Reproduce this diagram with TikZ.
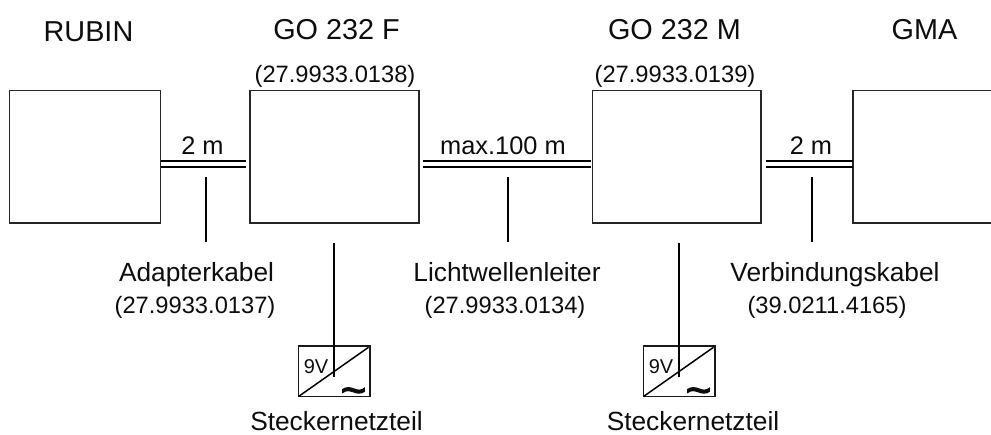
\documentclass[tikz,border=0pt]{standalone}
\usepackage{fontspec}
\usetikzlibrary{calc}
\setmainfont{Liberation Sans}
\newfontfamily\tildefont[FakeBold=2.5]{Liberation Sans}
\tikzset{
  x=1pt,y=-1pt,
  devbox/.style={draw=black!85,line width=1.3pt,inner sep=0pt,outer sep=0pt,anchor=north west},
  psubox/.style={draw=black!90,line width=1.4pt,inner sep=0pt,outer sep=0pt,minimum width=71.5pt,minimum height=50.5pt,anchor=north west},
  cable/.style={line width=2pt,black},
  lead/.style={line width=1.5pt,black},
  feed/.style={line width=2pt,black},
  diag/.style={line width=1.5pt,black},
  txt/.style={inner sep=0pt,outer sep=0pt,anchor=base,text=black!95},
  head/.style={txt,font=\fontsize{28.8}{30}\selectfont},
  lab/.style={txt,font=\fontsize{26.3}{28}\selectfont},
  num/.style={txt,font=\fontsize{23.7}{26}\selectfont},
  len/.style={txt,font=\fontsize{25.4}{28}\selectfont},
  volt/.style={txt,font=\fontsize{20}{22}\selectfont},
  tild/.style={txt,font=\tildefont\fontsize{44}{44}\selectfont},
}
\begin{document}
\begin{tikzpicture}
\useasboundingbox (0,0) rectangle (991,434);
\clip (0,0) rectangle (991,434);
\node[devbox,minimum width=151pt,minimum height=132.5pt] (rubin) at (9.5,90.5) {};
\node[devbox,minimum width=169pt,minimum height=132.5pt] (gof) at (250,90.5) {};
\node[devbox,minimum width=168.5pt,minimum height=132.5pt] (gom) at (592.5,90.5) {};
\node[devbox,minimum width=160pt,minimum height=132.5pt] (gma) at (853,90.5) {};
\node[psubox] (psua) at (298.5,346) {};
\node[psubox] (psub) at (643.5,346) {};

\node[head] (trubin) at (88.5,41) {RUBIN};
\node[head] (tgof) at (336.5,39) {GO 232 F};
\node[head] (tgom) at (674.5,39) {GO 232 M};
\node[head] (tgma) at (924.5,39) {GMA};
\node[num] (ngof) at (335,82) {(27.9933.0138)};
\node[num] (ngom) at (675,82) {(27.9933.0139)};
\node[len] (la) at (202.5,154) {2 m};
\node[len] (lb) at (503,154) {max.100 m};
\node[len] (lc) at (811,154) {2 m};
\node[lab] (ca) at (196.5,281) {Adapterkabel};
\node[num] (na) at (195,313) {(27.9933.0137)};
\node[lab] (cb) at (507,281) {Lichtwellenleiter};
\node[num] (nb) at (505,313) {(27.9933.0134)};
\node[lab] (cc) at (835,281) {Verbindungskabel};
\node[num] (nc) at (827,313) {(39.0211.4165)};
\node[lab] (sa) at (336.5,430) {Steckernetzteil};
\node[lab] (sb) at (693,430) {Steckernetzteil};
\node[volt] (va) at (316,373) {9V};
\node[volt] (vb) at (661,373) {9V};
\node[tild] (ta) at (353.5,405) {\char`\~};
\node[tild] (tb) at (698.5,405) {\char`\~};

% double cables
\coordinate (a1) at (rubin.east |- 0,160.5);
\coordinate (a2) at (245.5,160.5);
\coordinate (a3) at (rubin.east |- 0,167);
\coordinate (a4) at (245.5,167);
\draw[cable] (a1) -- (a2);
\draw[cable] (a3) -- (a4);
\coordinate (b1) at (423,160.5);
\coordinate (b2) at (590.5,160.5);
\coordinate (b3) at (423,167);
\coordinate (b4) at (590.5,167);
\draw[cable] (b1) -- (b2);
\draw[cable] (b3) -- (b4);
\coordinate (c1) at (765.5,160.5);
\coordinate (c2) at (gma.west |- 0,160.5);
\coordinate (c3) at (765.5,167);
\coordinate (c4) at (gma.west |- 0,167);
\draw[cable] (c1) -- (c2);
\draw[cable] (c3) -- (c4);
% leaders
\coordinate (la1) at (206,177);
\coordinate (la2) at (206,241.5);
\coordinate (lb1) at (508,177);
\coordinate (lb2) at (508,241.5);
\coordinate (lc1) at (812,177);
\coordinate (lc2) at (812,241.5);
\draw[lead] (la1) -- (la2);
\draw[lead] (lb1) -- (lb2);
\draw[lead] (lc1) -- (lc2);
% power feeds
\coordinate (fa1) at (334,243);
\coordinate (fa2) at (334,377);
\coordinate (fb1) at (679,243);
\coordinate (fb2) at (679,377);
\draw[feed] (fa1) -- (fa2);
\draw[feed] (fb1) -- (fb2);
% diagonals
\draw[diag] (psua.south west) -- ($(psua.north east)+(-1.5,1.3)$);
\draw[diag] (psub.south west) -- ($(psub.north east)+(-1.5,1.3)$);
\end{tikzpicture}
\end{document}
